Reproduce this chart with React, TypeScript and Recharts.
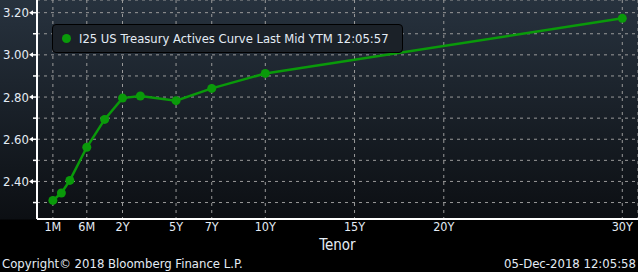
import React from 'react';
import { LineChart, Line, XAxis, YAxis, CartesianGrid } from 'recharts';

// curve points
const tenorLabels = ['1M', '2M', '3M', '6M', '1Y', '2Y', '3Y', '5Y', '7Y', '10Y', '30Y'];
const tenorYears = [1 / 12, 2 / 12, 3 / 12, 0.5, 1, 2, 3, 5, 7, 10, 30];
const yields = [2.31, 2.345, 2.405, 2.562, 2.694, 2.795, 2.805, 2.783, 2.841, 2.912, 3.173];

// axis ticks
const xTickLabels = ['1M', '6M', '2Y', '5Y', '7Y', '10Y', '15Y', '20Y', '30Y'];
const xTickYears = [1 / 12, 0.5, 2, 5, 7, 10, 15, 20, 30];
const yTicks = [2.3, 2.4, 2.5, 2.6, 2.7, 2.8, 2.9, 3.0, 3.1, 3.2];
const yLabelled = [2.4, 2.6, 2.8, 3.0, 3.2];

const legendText = 'I25 US Treasury Actives Curve Last Mid YTM 12:05:57';
const copyright = 'Copyright\u00A9 2018 Bloomberg Finance L.P.';
const stamp = '05-Dec-2018 12:05:58';

const GREEN = '#0a9a0a';
const TEXT = '#e4ecf5';
const FONT = '"DejaVu Sans Condensed", "DejaVu Sans", sans-serif';

// Bloomberg-style tenor axis: short end stretched, linear in years from 1Y on
const tenorAxis = (y: number) => {
  if (y >= 1) return y;
  if (y >= 0.5) return (y - 0.5) * 2;
  if (y >= 0.25) return -0.95 + ((y - 0.25) / 0.25) * 0.95;
  return -1.9 + ((y - 1 / 12) / (1 / 6)) * 0.95;
};

const data = tenorLabels.map((t, i) => ({ tenor: t, pos: tenorAxis(tenorYears[i]), ytm: yields[i] }));
const xTicks = xTickYears.map(tenorAxis);

const XTick = (props: any) => {
  const { x, y, payload } = props;
  const idx = xTicks.findIndex((v) => Math.abs(v - payload.value) < 1e-6);
  return (
    <text x={x} y={y} dy="0.35em" textAnchor="middle" fill={TEXT} fontSize={12.5} fontFamily={FONT}>
      {idx >= 0 ? xTickLabels[idx] : ''}
    </text>
  );
};

const YTick = (props: any) => {
  const { x, y, payload } = props;
  const major = yLabelled.some((v) => Math.abs(v - payload.value) < 1e-6);
  if (!major) return <line x1={x - 4} x2={x} y1={y} y2={y} stroke="#fff" strokeWidth={1.5} />;
  return (
    <g>
      <polygon points={`${x - 8},${y} ${x - 4},${y - 2.5} ${x - 4},${y + 2.5}`} fill="#fff" />
      <line x1={x - 4} x2={x} y1={y} y2={y} stroke="#fff" strokeWidth={1.5} />
      <text x={x - 8} y={y} dy="0.35em" textAnchor="end" fill={TEXT} fontSize={13} fontFamily={FONT}>
        {payload.value.toFixed(2)}
      </text>
    </g>
  );
};

export default function App() {
  return (
    <div
      style={{
        position: 'absolute',
        left: 0,
        top: 0,
        width: 638,
        height: 272,
        background: 'linear-gradient(to bottom, #27323e 0px, #0c0f13 219px, #000 220px, #000 272px)',
        fontFamily: FONT,
      }}
    >
      <LineChart width={638} height={272} data={data} margin={{ top: 0, right: 0, bottom: 0, left: 0 }}>
        <CartesianGrid stroke="#9a9a9a" strokeDasharray="3 4" />
        <XAxis
          dataKey="pos"
          type="number"
          domain={[-2.79, 30.88]}
          ticks={xTicks}
          interval={0}
          height={53}
          tickLine={false}
          tickSize={6}
          tickMargin={2}
          axisLine={{ stroke: '#fff', strokeWidth: 2 }}
          tick={<XTick />}
          label={{ value: 'Tenor', position: 'insideBottom', offset: 22, fill: TEXT, fontSize: 15, fontFamily: FONT }}
        />
        <YAxis
          type="number"
          domain={[2.222, 3.26]}
          ticks={yTicks}
          interval={0}
          width={37}
          tickLine={false}
          tickSize={0}
          tickMargin={0}
          axisLine={{ stroke: '#fff', strokeWidth: 2 }}
          tick={<YTick />}
        />
        <Line
          dataKey="ytm"
          stroke={GREEN}
          strokeWidth={2.5}
          dot={{ r: 4.5, fill: GREEN, stroke: GREEN, strokeWidth: 0 }}
          isAnimationActive={false}
        />
      </LineChart>
      <div
        style={{
          position: 'absolute',
          left: 52,
          top: 24,
          width: 349,
          height: 27,
          border: '1px solid #000',
          borderRadius: 4,
          background: '#1b2128',
          display: 'flex',
          alignItems: 'center',
          color: TEXT,
          fontSize: 12.9,
          whiteSpace: 'nowrap',
        }}
      >
        <span
          style={{
            flexShrink: 0,
            display: 'block',
            width: 9,
            height: 9,
            borderRadius: '50%',
            background: GREEN,
            marginLeft: 9,
            marginRight: 8,
          }}
        />
        <span>{legendText}</span>
      </div>
      <div style={{ position: 'absolute', left: 2, top: 256, color: TEXT, fontSize: 13, whiteSpace: 'nowrap' }}>
        {copyright}
      </div>
      <div style={{ position: 'absolute', right: 2, top: 256, color: TEXT, fontSize: 13, whiteSpace: 'nowrap' }}>
        {stamp}
      </div>
    </div>
  );
}
